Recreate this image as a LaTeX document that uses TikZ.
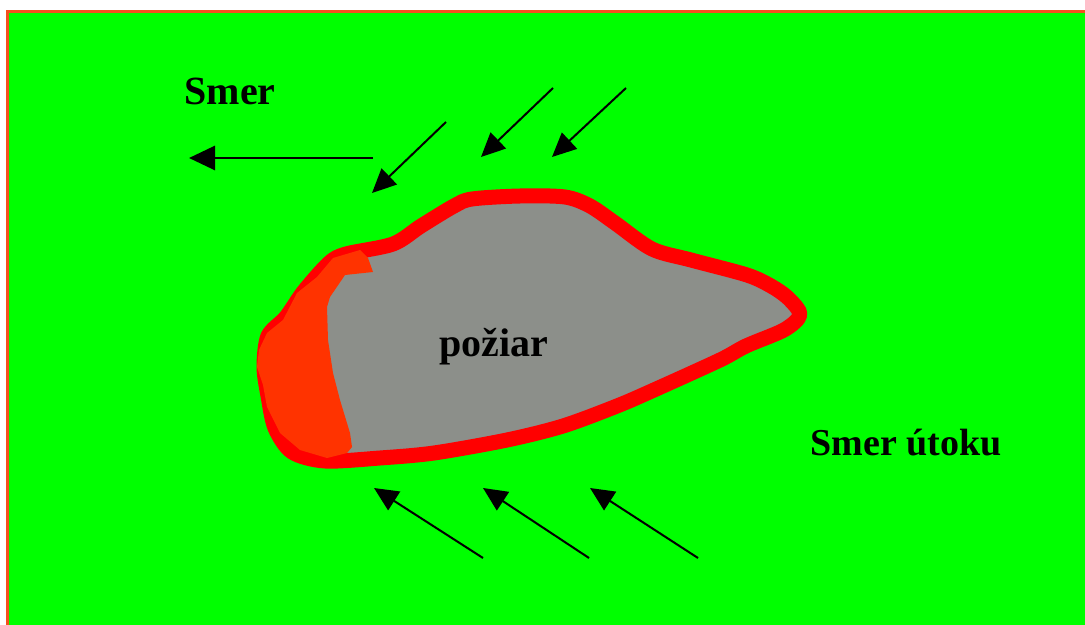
\documentclass[tikz,border=0pt]{standalone}
\usepackage{fontspec}
\setmainfont{Liberation Serif}
\usepackage{tikz}
\usetikzlibrary{arrows.meta}
\definecolor{grass}{HTML}{00FF00}
\definecolor{flame}{HTML}{FF0000}
\definecolor{ember}{HTML}{FF3300}
\definecolor{ash}{HTML}{8C8F8A}
\definecolor{frame}{HTML}{F4511E}

\begin{document}
\begin{tikzpicture}[x=0.5pt,y=-0.5pt,>={Triangle[length=12pt,width=11pt]},
arr/.style={->,line width=1pt},
lab/.style={font=\bfseries\fontsize{20}{24}\selectfont,inner sep=0pt}]
\useasboundingbox (0,0) rectangle (1085,625);
\fill[white] (0,0) rectangle (1085,625);
\fill[grass] (7,11) rectangle (1085,625);
\draw[frame,line width=1.5pt] (7.5,625) -- (7.5,11.5) -- (1085,11.5);
% burnt area
\draw[flame,fill=ash,line width=7.5pt] plot[smooth cycle] coordinates {
(472,199) (520,196) (565,197) (590,206) (615,223) (652,249) (691,260)
(747,275) (771,286) (787,297) (799,311) (797,320) (782,331) (746,346)
(720,360) (654,390) (617,406) (563,426) (507,440) (434,453) (380,458)
(325,461) (292,452) (275,428) (268,396) (264,367) (268,336) (286,317)
(304,291) (329,263) (346,254) (393,244) (421,226) (454,206)};
\fill[ember] (360,250) -- (368,258) -- (373,272) -- (345,275) -- (330,297)
-- (327,307) -- (328,340) -- (333,373) -- (340,400) -- (350,433) -- (352,447)
-- (347,453) -- (327,458) -- (300,450) -- (280,433) -- (267,407) -- (263,385)
-- (257,367) -- (259,350) -- (267,333) -- (283,320) -- (297,293) -- (317,277)
-- (333,258) -- cycle;
\node[lab] (poziar) at (494,347) {požiar};
\node[lab] (smer) at (230,91) {Smer};
\node[lab,font=\bfseries\fontsize{19}{23}\selectfont] (utok) at (906,443) {Smer útoku};
% direction
\coordinate (s0) at (373,158);
\coordinate (s1) at (189,158);
\draw[arr,line width=1.4pt,>={Triangle[length=13pt,width=12pt]}] (s0) -- (s1);
% attack from above
\foreach \i/\a/\b/\c/\d in {1/446/122/372/193,2/553/88/481/157,3/626/88/552/157}{
\coordinate (u\i) at (\a,\b);
\coordinate (v\i) at (\c,\d);
\draw[arr] (u\i) -- (v\i);}
% attack from below
\foreach \i/\a/\b/\c/\d in {1/483/558/374/488,2/589/558/483/488,3/698/558/590/488}{
\coordinate (p\i) at (\a,\b);
\coordinate (q\i) at (\c,\d);
\draw[arr] (p\i) -- (q\i);}
\end{tikzpicture}
\end{document}
